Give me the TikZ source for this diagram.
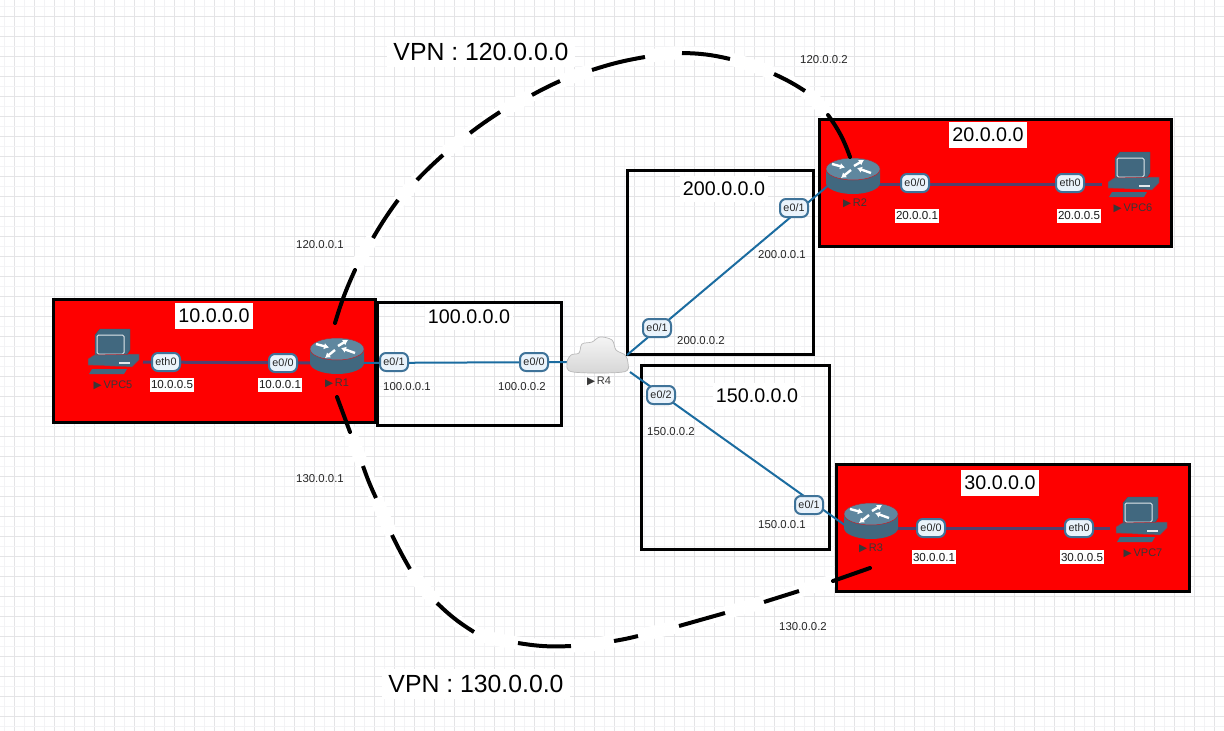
\documentclass[tikz,border=0pt]{standalone}
\usepackage{fontspec}
\setmainfont{Liberation Sans}
\newfontfamily\dvfont{DejaVu Sans}
\usetikzlibrary{arrows.meta}
\definecolor{gmajor}{HTML}{E4E4E6}
\definecolor{gminor}{HTML}{F3F3F5}
\definecolor{devbody}{HTML}{41687F}
\definecolor{devtop}{HTML}{5F879F}
\definecolor{linkblue}{HTML}{1B6CA0}
\definecolor{linkdark}{HTML}{52406E}
\definecolor{netred}{HTML}{FE0000}
\definecolor{badgeline}{HTML}{3F7399}
\definecolor{badgefill}{HTML}{EAF3FB}
\tikzset{
  x=1pt,y=-1pt,
  netbox/.style={draw=black,line width=3pt,fill=none},
  redbox/.style={draw=black,line width=3pt,fill=netred},
  biglabel/.style={fill=white,inner xsep=3pt,inner ysep=6pt,text=black,font=\fontsize{19.7}{22}\selectfont},
  vpnlabel/.style={fill=white,inner sep=6pt,text=black,font=\fontsize{24.8}{27}\selectfont},
  iplabel/.style={fill=white,inner xsep=1pt,inner ysep=3pt,text=black!90,font=\fontsize{11.6}{13}\selectfont},
  iplabelplain/.style={inner sep=1pt,text=black!85,font=\fontsize{11.4}{13}\selectfont},
  badge/.style={draw=badgeline,line width=2pt,fill=badgefill,rounded corners=6pt,text=black!85,
     inner sep=0pt,minimum height=18pt,minimum width=28pt,font=\fontsize{10.8}{12}\selectfont},
  devlabel/.style={inner sep=0pt,text=black!78,font=\fontsize{11}{12}\selectfont},
  link/.style={draw=linkblue,line width=2pt},
  linkred/.style={draw=linkdark,line width=3pt},
  vpn/.style={draw=black,line width=4pt},
  vpngap/.style={draw=white,line width=13pt},
  devanchor/.style={inner sep=0pt,minimum width=54pt,minimum height=36pt},
  router/.pic={
    \fill[devbody] (-27,-7) -- (-27,7) arc[start angle=180,end angle=0,x radius=27,y radius=11] -- (27,-7) -- cycle;
    \draw[red!70!devbody,line width=.5pt,fill=devtop] (0,-7) ellipse[x radius=27,y radius=11];
    \draw[white,line width=2.4pt,-{Latex[length=5pt,width=6.5pt]}] (-21,-12) -- (-8,-8.5);
    \draw[white,line width=2.4pt,-{Latex[length=5pt,width=6.5pt]}] (1,-10) -- (11,-16);
    \draw[white,line width=2.4pt,-{Latex[length=5pt,width=6.5pt]}] (-2,-6) -- (-12,2);
    \draw[white,line width=2.4pt,-{Latex[length=5pt,width=6.5pt]}] (18,-3) -- (4,-8);
  },
  pcicon/.pic={
    \draw[devbody!85!black,line width=.4pt,fill=devbody] (-17,-12) -- (-12,-18) -- (18,-18) -- (18,3) -- (14,9) -- (-17,9) -- cycle;
    \draw[white!85!devbody,line width=1pt,fill=devbody,rounded corners=1.5pt] (-15,-12) rectangle (12,7);
    \draw[red!60!devbody,line width=.5pt,fill=devbody] (-24,18) -- (-24,12) -- (-18,8) -- (27,7) -- (27,13) -- (20,20) -- cycle;
    \fill[white!85!devbody] (7,15) rectangle (18,17);
    \fill[devbody] (-20,22) -- (15,22) -- (12,27) -- (-23,27) -- cycle;
  },
  cloudicon/.pic={
    \draw[gray!55,line width=.7pt,top color=gray!8,bottom color=gray!32]
      plot[smooth cycle,tension=.55] coordinates {(-25,12) (-31,3) (-27,-5) (-19,-7) (-16,-16) (-6,-18) (2,-23) (14,-20) (18,-10) (27,-5) (30,3) (25,12)};
  }
}
\newcommand{\tri}{{\dvfont\fontsize{10.5}{11}\selectfont ▶}\,}
\begin{document}
\begin{tikzpicture}
\useasboundingbox (0,0) rectangle (1224,731);
\fill[white] (0,0) rectangle (1224,731);
% grid
\foreach \i in {0,...,60} {
  \draw[gminor,line width=1pt] ({4+20*\i},0) -- ({4+20*\i},731);
  \draw[gmajor,line width=1pt] ({14+20*\i},0) -- ({14+20*\i},731);
}
\foreach \i in {0,...,36} {
  \draw[gminor,line width=1pt] (0,{6+20*\i}) -- (1224,{6+20*\i});
  \draw[gmajor,line width=1pt] (0,{16+20*\i}) -- (1224,{16+20*\i});
}
% white strokes of the VPN curves
\draw[vpngap,line cap=round] plot[smooth,tension=.6] coordinates {(355,270) (373,238) (417,180) (470,133) (532,95) (592,70) (645,57) (682,53) (730,59) (774,74) (805,91) (828,115)};
\draw[vpngap,line cap=round] plot[smooth,tension=.6] coordinates {(350,432) (363,466) (376,498) (392,535) (410,569) (437,603) (474,632) (518,643) (571,646) (614,641) (679,626) (725,613) (764,602) (799,591) (833,581)};
% boxes
\draw[netbox] (377,302) rectangle (561,425);
\draw[netbox] (627,170) rectangle (813,354);
\draw[netbox] (641,365) rectangle (829,549);
\draw[redbox] (53,299) rectangle (375,422);
\draw[redbox] (819,119) rectangle (1171,246);
\draw[redbox] (836,464) rectangle (1189,591);
% devices
\node[devanchor] (R1) at (337,356) {};
\node[devanchor] (R2) at (853,176) {};
\node[devanchor] (R3) at (871,521) {};
\node[devanchor,minimum width=60pt] (R4) at (598,360) {};
\node[inner sep=0pt] (VPC5) at (112,347) {};
\node[inner sep=0pt] (VPC6) at (1132,170) {};
\node[inner sep=0pt] (VPC7) at (1140,515) {};
\coordinate (V5e) at (143,362);
\coordinate (R1w) at (312,363);
\coordinate (R1e) at (362,363);
\coordinate (R4w) at (570,362);
\coordinate (R4ne) at (627,355);
\coordinate (R2sw) at (830,184);
\coordinate (R4se) at (630,372);
\coordinate (R3w) at (846,526);
\coordinate (R2e) at (878,184);
\coordinate (V6w) at (1102,184);
\coordinate (R3e) at (896,528);
\coordinate (V7w) at (1110,528);
% links
\draw[linkred] (V5e) -- (R1w);
\draw[link] (R1e) -- (R4w);
\draw[link] (R4ne) -- (R2sw);
\draw[link] (R4se) -- (R3w);
\draw[linkred] (R2e) -- (V6w);
\draw[linkred] (R3e) -- (V7w);
% icons
\pic at (R1) {router};
\pic at (R2) {router};
\pic at (R3) {router};
\pic at (R4) {cloudicon};
\pic at (VPC5) {pcicon};
\pic at (VPC6) {pcicon};
\pic at (VPC7) {pcicon};
% device labels
\node[devlabel] (lR1) at (337,383) {\tri R1};
\node[devlabel] (lR2) at (855,203) {\tri R2};
\node[devlabel] (lR3) at (871,548) {\tri R3};
\node[devlabel] (lR4) at (599,381) {\tri R4};
\node[devlabel] (lV5) at (113,385) {\tri VPC5};
\node[devlabel] (lV6) at (1133,208) {\tri VPC6};
\node[devlabel] (lV7) at (1143,553) {\tri VPC7};
% badges
\node[badge] (b1) at (166,362) {eth0};
\node[badge] (b2) at (283,363) {e0/0};
\node[badge] (b3) at (394,362) {e0/1};
\node[badge] (b4) at (534,362) {e0/0};
\node[badge] (b5) at (657,328) {e0/1};
\node[badge] (b6) at (794,208) {e0/1};
\node[badge] (b7) at (661,395) {e0/2};
\node[badge] (b8) at (809,505) {e0/1};
\node[badge] (b9) at (915,183) {e0/0};
\node[badge] (b10) at (1070,183) {eth0};
\node[badge] (b11) at (931,528) {e0/0};
\node[badge] (b12) at (1079,528) {eth0};
% big labels
\node[biglabel] (n10) at (214,316) {10.0.0.0};
\node[biglabel] (n20) at (988,135) {20.0.0.0};
\node[biglabel] (n30) at (1000,483) {30.0.0.0};
\node[biglabel] (n100) at (469,317) {100.0.0.0};
\node[biglabel] (n200) at (724,189) {200.0.0.0};
\node[biglabel] (n150) at (757,396) {150.0.0.0};
\node[vpnlabel] (v120) at (481,52) {VPN : 120.0.0.0};
\node[vpnlabel] (v130) at (476,684) {VPN : 130.0.0.0};
% ip labels
\node[iplabel] (i1) at (172,385) {10.0.0.5};
\node[iplabel] (i2) at (280,385) {10.0.0.1};
\node[iplabel] (i3) at (917,216) {20.0.0.1};
\node[iplabel] (i4) at (1079,216) {20.0.0.5};
\node[iplabel] (i5) at (934,557) {30.0.0.1};
\node[iplabel] (i6) at (1082,557) {30.0.0.5};
\node[iplabelplain] (i7) at (407,387) {100.0.0.1};
\node[iplabelplain] (i8) at (522,387) {100.0.0.2};
\node[iplabelplain] (i9) at (701,341) {200.0.0.2};
\node[iplabelplain] (i10) at (782,255) {200.0.0.1};
\node[iplabelplain] (i11) at (671,432) {150.0.0.2};
\node[iplabelplain] (i12) at (782,525) {150.0.0.1};
\node[iplabelplain] (i13) at (320,245) {120.0.0.1};
\node[iplabelplain] (i14) at (824,60) {120.0.0.2};
\node[iplabelplain] (i15) at (320,479) {130.0.0.1};
\node[iplabelplain] (i16) at (803,627) {130.0.0.2};
% VPN 120 pieces
\coordinate (R1top) at (335,323);
\coordinate (R2top) at (850,157);
\coordinate (R1bot) at (337,397);
\coordinate (R3top) at (870,568);
\draw[vpn,line cap=round] (R1top) to[bend left=4] (355,270);
\draw[vpn] (373,238) to[bend left=3] (398,200);
\draw[vpn] (417,180) to[bend left=2] (443,155);
\draw[vpn] (470,133) to[bend left=2] (500,112);
\draw[vpn] (532,95) to[bend left=2] (560,81);
\draw[vpn] (592,70) to[bend left=4] (645,57);
\draw[vpn] (682,53) to[bend left=6] (730,59);
\draw[vpn] (774,74) to[bend left=4] (805,91);
\draw[vpn,line cap=round] (828,115) to[bend left=8] (R2top);
% VPN 130 pieces
\draw[vpn,line cap=round] (R1bot) to (350,432);
\draw[vpn] (363,466) to[bend right=3] (376,498);
\draw[vpn] (392,535) to[bend right=2] (410,569);
\draw[vpn] (437,603) to[bend right=6] (474,632);
\draw[vpn] (518,643) to[bend right=6] (571,646);
\draw[vpn] (614,641) to[bend right=2] (638,636);
\draw[vpn] (679,626) to (725,613);
\draw[vpn] (764,602) to (799,591);
\draw[vpn,line cap=round] (833,581) to (R3top);
\end{tikzpicture}
\end{document}
